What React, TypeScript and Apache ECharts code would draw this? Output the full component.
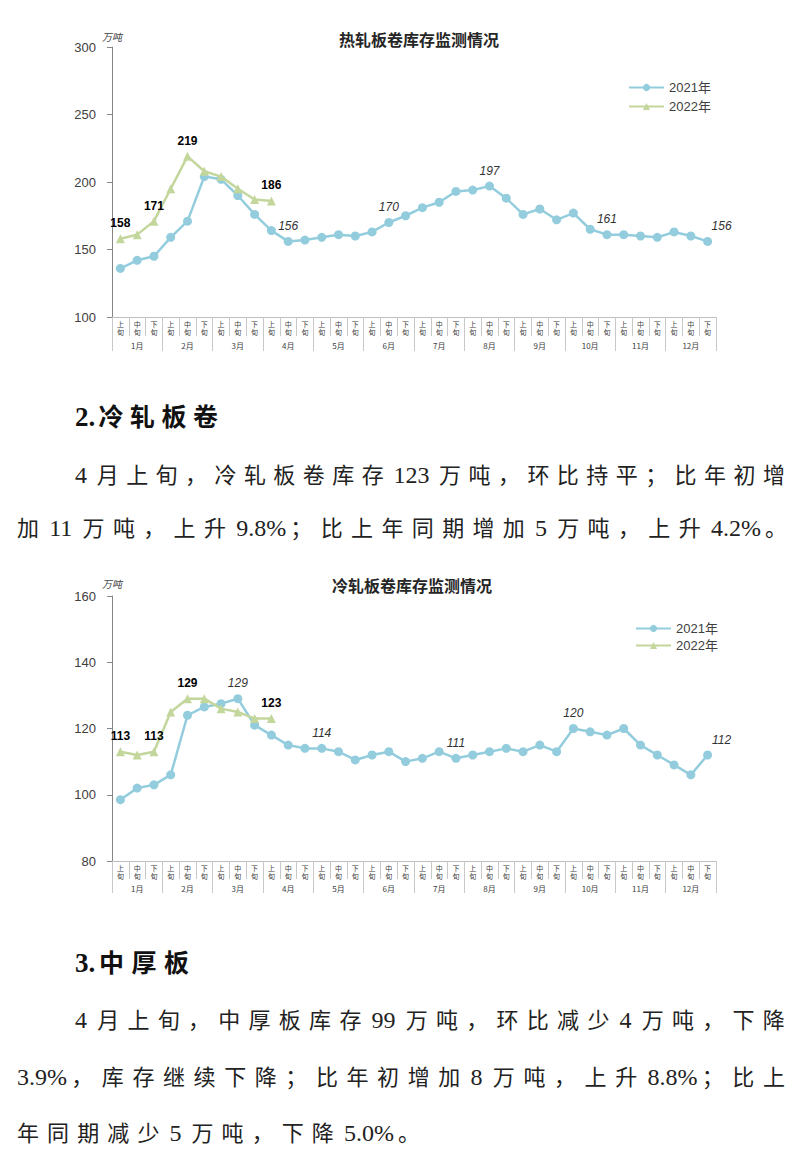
import React, { useEffect, useLayoutEffect, useRef } from "react";
import * as echarts from "echarts";

const months = ["1月", "2月", "3月", "4月", "5月", "6月", "7月", "8月", "9月", "10月", "11月", "12月"];
const tenDays = ["上\n旬", "中\n旬", "下\n旬"];
const categories: string[] = [];
months.forEach(() => tenDays.forEach((t) => categories.push(t)));

const seriesNames = ["2021年", "2022年"];

const hot2021 = [136, 142, 145, 159, 171, 204, 202, 190, 176, 164, 156, 157, 159, 161, 160, 163, 170, 175, 181, 185, 193, 194, 197, 188, 176, 180, 172, 177, 165, 161, 161, 160, 159, 163, 160, 156];
const hot2022 = [158, 161, 171, 195, 219, 208, 204, 195, 187, 186];
const hot2021Labeled = [10, 16, 22, 29, 35];
const hot2022Labeled = [0, 2, 4, 9];
const hotAxis = { min: 100, max: 300, interval: 50 };

const cold2021 = [98.5, 102, 103, 106, 124, 126.5, 127.5, 129, 121, 118, 115, 114, 114, 113, 110.5, 112, 113, 110, 111, 113, 111, 112, 113, 114, 113, 115, 113, 120, 119, 118, 120, 115, 112, 109, 106, 112];
const cold2022 = [113, 112, 113, 125, 129, 129, 126, 125, 123, 123];
const cold2021Labeled = [7, 12, 20, 27, 35];
const cold2022Labeled = [0, 2, 4, 9];
const coldAxis = { min: 80, max: 160, interval: 20 };

const COLOR_2021 = "#93CDDD";
const COLOR_2022 = "#C3D69B";
const FONT = '"Liberation Sans", Arial, "Noto Sans CJK SC", sans-serif';
const TEXT_FONT = '"Liberation Serif", "Noto Sans CJK SC", serif';

function withLabels(values: number[], labeled: number[], style: any, lastIndex: number) {
  return values.map((v, i) =>
    labeled.includes(i)
      ? {
          value: v,
          label: {
            show: true,
            position: "top",
            distance: 5,
            offset: i === lastIndex ? [14, 0] : [0, 0],
            formatter: (p: any) => String(Math.round(p.value)),
            fontFamily: FONT,
            fontSize: 12,
            ...style,
          },
        }
      : v
  );
}

function buildOption(cfg: any) {
  return {
    animation: false,
    backgroundColor: "#fff",
    textStyle: { fontFamily: FONT },
    title: {
      text: cfg.title,
      left: cfg.titleLeft,
      top: cfg.titleTop,
      textAlign: "center",
      padding: 0,
      textStyle: { fontSize: 16, fontWeight: "bold", color: "#262626", fontFamily: '"Noto Sans CJK SC", sans-serif' },
    },
    legend: {
      data: seriesNames,
      orient: "vertical",
      left: cfg.legendLeft,
      top: cfg.legendTop,
      padding: 0,
      itemWidth: 35,
      itemHeight: 9,
      itemGap: cfg.legendGap,
      textStyle: { fontSize: 13, color: "#404040", fontFamily: FONT },
    },
    grid: { left: 112, top: cfg.gridTop, width: 604, height: cfg.gridHeight },
    xAxis: [
      {
        type: "category",
        data: categories,
        position: "bottom",
        boundaryGap: true,
        axisLine: { show: true, onZero: false, lineStyle: { color: "#BFBFBF", width: 1 } },
        axisTick: { show: true, interval: 0, length: cfg.tickLen, lineStyle: { color: "#C8C8C8" } },
        axisLabel: { interval: 0, fontSize: 7, lineHeight: 8, margin: 3, color: "#404040", fontFamily: '"Noto Sans CJK SC", sans-serif' },
        splitLine: { show: false },
      },
      {
        type: "category",
        data: months,
        position: "bottom",
        boundaryGap: true,
        axisLine: { show: false, onZero: false },
        axisTick: { show: true, interval: 0, length: cfg.monthTickLen, lineStyle: { color: "#C8C8C8" } },
        axisLabel: { interval: 0, fontSize: 8, margin: cfg.monthMargin, color: "#404040", fontFamily: '"Noto Sans CJK SC", sans-serif' },
        splitLine: { show: false },
      },
    ],
    yAxis: {
      type: "value",
      min: cfg.axis.min,
      max: cfg.axis.max,
      interval: cfg.axis.interval,
      name: "万吨",
      nameLocation: "end",
      nameGap: cfg.nameGap,
      nameTextStyle: { fontSize: 10, fontStyle: "italic", color: "#404040", align: "center", fontFamily: '"Noto Sans CJK SC", sans-serif' },
      axisLine: { show: true, lineStyle: { color: "#868686", width: 1 } },
      axisTick: { show: true, length: 5, lineStyle: { color: "#868686" } },
      axisLabel: { fontSize: 13, color: "#404040", margin: 16, fontFamily: FONT },
      splitLine: { show: false },
    },
    series: [
      {
        name: seriesNames[0],
        type: "line",
        xAxisIndex: 0,
        data: withLabels(cfg.d2021, cfg.l2021, { fontStyle: "italic", color: "#333" }, 35),
        symbol: "circle",
        symbolSize: 9,
        lineStyle: { color: COLOR_2021, width: 2.5 },
        itemStyle: { color: COLOR_2021 },
        z: 2,
      },
      {
        name: seriesNames[1],
        type: "line",
        xAxisIndex: 0,
        data: withLabels(cfg.d2022, cfg.l2022, { fontWeight: "bold", color: "#000" }, -1),
        symbol: "triangle",
        symbolSize: 9,
        lineStyle: { color: COLOR_2022, width: 2.5 },
        itemStyle: { color: COLOR_2022 },
        z: 3,
      },
    ],
  };
}

function Chart({ option, style }: { option: any; style: React.CSSProperties }) {
  const ref = useRef<HTMLDivElement>(null);
  useEffect(() => {
    if (!ref.current) return;
    const chart = echarts.init(ref.current, undefined, { renderer: "svg" });
    chart.setOption(option);
    return () => chart.dispose();
  }, [option]);
  return <div ref={ref} style={style} />;
}

const hotOption = buildOption({
  title: "热轧板卷库存监测情况",
  titleLeft: 419,
  titleTop: 31,
  legendLeft: 628,
  legendTop: 81,
  legendGap: 6,
  gridTop: 47,
  gridHeight: 270,
  tickLen: 19,
  monthTickLen: 34,
  monthMargin: 24,
  nameGap: 6,
  axis: hotAxis,
  d2021: hot2021,
  d2022: hot2022,
  l2021: hot2021Labeled,
  l2022: hot2022Labeled,
});

const coldOption = buildOption({
  title: "冷轧板卷库存监测情况",
  titleLeft: 412,
  titleTop: 17,
  legendLeft: 635,
  legendTop: 62,
  legendGap: 4,
  gridTop: 36,
  gridHeight: 265,
  tickLen: 18,
  monthTickLen: 32,
  monthMargin: 23,
  nameGap: 8,
  axis: coldAxis,
  d2021: cold2021,
  d2022: cold2022,
  l2021: cold2021Labeled,
  l2022: cold2022Labeled,
});

const isWide = (c?: string) => c !== undefined && c.charCodeAt(0) >= 128;

// weight of extra spacing placed after each character
function spacingWeight(c: string, next?: string): number {
  if (next === undefined) return 0;
  if (c === " ") return 0.5;
  if (isWide(c)) {
    if (next === " ") return 0;
    return isWide(next) ? 1 : 0.5;
  }
  if (next === " ") return 0;
  return isWide(next) ? 0.5 : 0;
}

function FitLine({ text, left, width, center, size, asciiSize, bold }: { text: string; left: number; width: number; center: number; size: number; asciiSize: number; bold?: boolean }) {
  const ref = useRef<HTMLDivElement>(null);
  const chars = Array.from(text);
  const weights = chars.map((c, i) => spacingWeight(c, chars[i + 1]));
  useLayoutEffect(() => {
    const el = ref.current;
    if (!el) return;
    const spans = Array.from(el.children) as HTMLElement[];
    spans.forEach((s) => (s.style.letterSpacing = "0px"));
    const w = el.getBoundingClientRect().width;
    const total = weights.reduce((a, b) => a + b, 0);
    const ls = total > 0 ? (width - w) / total : 0;
    spans.forEach((s, i) => (s.style.letterSpacing = weights[i] * ls + "px"));
  }, [text, width]);
  return (
    <div
      ref={ref}
      style={{
        position: "absolute",
        left,
        top: center - 16,
        fontSize: size,
        lineHeight: "32px",
        fontWeight: bold ? "bold" : "normal",
        fontFamily: TEXT_FONT,
        color: bold ? "#111" : "#222",
        whiteSpace: "pre",
      }}
    >
      {chars.map((c, i) => (
        <span key={i} style={{ fontSize: isWide(c) ? size : asciiSize }}>{c}</span>
      ))}
    </div>
  );
}

export default function App() {
  useEffect(() => {
    document.body.style.margin = "0";
  }, []);
  return (
    <div style={{ position: "relative", width: 800, height: 1164, background: "#fff", overflow: "hidden" }}>
      <Chart option={hotOption} style={{ position: "absolute", left: 0, top: 0, width: 800, height: 370 }} />
      <FitLine text="2.冷轧板卷" left={75} width={143} center={417} size={25} asciiSize={27} bold />
      <FitLine text="4 月上旬，冷轧板卷库存 123 万吨，环比持平；比年初增" left={75} width={710} center={475} size={22} asciiSize={24} />
      <FitLine text="加 11 万吨，上升 9.8%；比上年同期增加 5 万吨，上升 4.2%。" left={17} width={770} center={528} size={22} asciiSize={24} />
      <Chart option={coldOption} style={{ position: "absolute", left: 0, top: 560, width: 800, height: 350 }} />
      <FitLine text="3.中厚板" left={75} width={114} center={963} size={25} asciiSize={27} bold />
      <FitLine text="4 月上旬，中厚板库存 99 万吨，环比减少 4 万吨，下降" left={75} width={710} center={1020} size={22} asciiSize={24} />
      <FitLine text="3.9%，库存继续下降；比年初增加 8 万吨，上升 8.8%；比上" left={17} width={768} center={1077} size={22} asciiSize={24} />
      <FitLine text="年同期减少 5 万吨，下降 5.0%。" left={17} width={403} center={1133} size={22} asciiSize={24} />
    </div>
  );
}
